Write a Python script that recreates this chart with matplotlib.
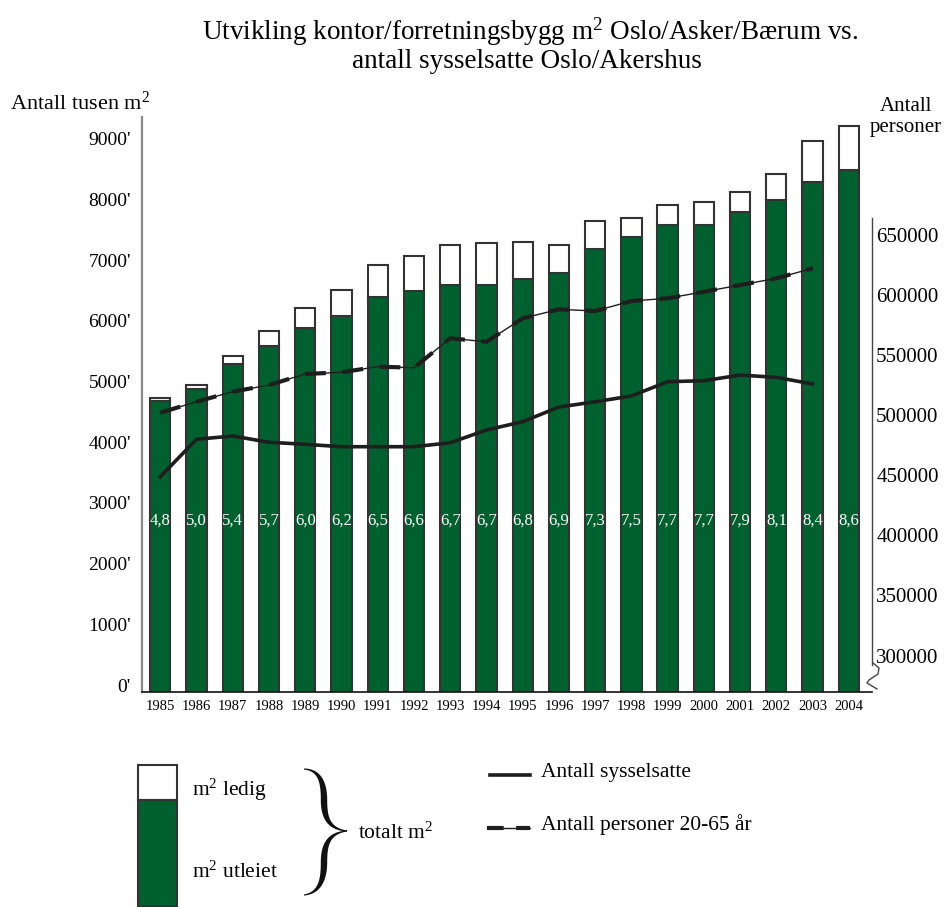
from matplotlib import pyplot as plt
from matplotlib.lines import Line2D
from matplotlib.patches import Rectangle, Polygon
from matplotlib.transforms import ScaledTranslation
import numpy as np

plt.rcParams['font.family'] = ['Liberation Serif', 'DejaVu Serif']
plt.rcParams['mathtext.fontset'] = 'custom'
plt.rcParams['mathtext.rm'] = 'Liberation Serif'
plt.rcParams['mathtext.it'] = 'Liberation Serif'

# Data (tusen m2 and persons)
years = list(range(1985, 2005))
utleiet_mill = [4.8, 5.0, 5.4, 5.7, 6.0, 6.2, 6.5, 6.6, 6.7, 6.7,
                6.8, 6.9, 7.3, 7.5, 7.7, 7.7, 7.9, 8.1, 8.4, 8.6]
ledig = [40, 50, 130, 240, 330, 430, 530, 590, 660, 690,
         610, 470, 460, 310, 330, 370, 330, 430, 680, 720]
sysselsatte = [448700, 479900, 482600, 477400, 475700, 473700, 473700, 473700,
               477000, 487600, 494500, 506700, 511100, 515900, 527800, 528600,
               533300, 531400, 525900]
personer_20_65 = [502000, 511100, 519500, 525000, 534200, 535600, 540300, 539400,
                  563900, 561000, 580500, 588000, 586600, 594900, 597200, 602600,
                  608200, 613800, 622100]
left_ticks = list(range(0, 9001, 1000))
right_ticks = list(range(300000, 650001, 50000))

GREEN = '#00612f'
EDGE = '#333333'
W, H = 945, 907

fig = plt.figure(figsize=(9.45, 9.07), dpi=100)


def fx(px):
    return px / W


def fy(py):
    return 1 - py / H


ax = fig.add_axes([fx(142), fy(692), fx(872) - fx(142), fy(117) - fy(692)])

x = np.arange(len(years))
utleiet = [v * 1000 for v in utleiet_mill]
ax.bar(x, utleiet, width=0.56, color=GREEN, edgecolor=EDGE, linewidth=1.5)
ax.bar(x, ledig, bottom=utleiet, width=0.56, color='white', edgecolor=EDGE, linewidth=1.5)

for i, v in enumerate(utleiet_mill):
    ax.text(i, 2820, f"{v:.1f}".replace('.', ','), color='white',
            ha='center', va='center', fontsize=12)

ax.set_xlim(-0.505, 19.64)
ax.set_ylim(0, 9473)
ax.set_xticks(x)
ax.set_xticklabels([str(y) for y in years], fontsize=10.5)
ax.set_yticks(left_ticks)
ax.set_yticklabels([f"{v}'" for v in left_ticks], fontsize=14)
ax.tick_params(axis='both', length=0)
ax.tick_params(axis='y', pad=8)
ax.tick_params(axis='x', pad=6)
for lab in ax.get_yticklabels():
    lab.set_transform(lab.get_transform() + ScaledTranslation(0, 0.07, fig.dpi_scale_trans))

ax.spines['top'].set_visible(False)
ax.spines['right'].set_visible(False)
ax.spines['left'].set_color('#8a8a8a')
ax.spines['left'].set_linewidth(1.6)
ax.spines['bottom'].set_color('#111111')
ax.spines['bottom'].set_linewidth(1.2)

# persons on the right-hand axis
ax2 = ax.twinx()
ax2.set_ylim(269634, 748003)
xl = np.arange(len(sysselsatte))
ax2.plot(xl, sysselsatte, color='#1e1e1e', linewidth=2.6, solid_joinstyle='round')
ax2.plot(xl, personer_20_65, color='#1e1e1e', linewidth=1.0)
ax2.plot(xl, personer_20_65, color='#1e1e1e', linewidth=3.0, dashes=(5, 4))
ax2.set_yticks(right_ticks)
ax2.set_yticklabels([str(v) for v in right_ticks], fontsize=15)
ax2.tick_params(axis='y', length=0, pad=3)
for s in ['top', 'left', 'bottom']:
    ax2.spines[s].set_visible(False)
ax2.spines['right'].set_bounds(292500, 664000)
ax2.spines['right'].set_color('#444444')
ax2.spines['right'].set_linewidth(1.0)

# axis break squiggle under the right axis
sq = [(873, 663), (879, 668), (878, 674), (869, 680), (867, 683), (872, 686), (877, 689)]
fig.add_artist(Line2D([fx(p[0]) for p in sq], [fy(p[1]) for p in sq],
                      transform=fig.transFigure, color='#444444', linewidth=1.0))

# titles and axis captions
fig.text(fx(530), fy(32), "Utvikling kontor/forretningsbygg m$^2$ Oslo/Asker/Bærum vs.",
         ha='center', va='center', fontsize=19.5)
fig.text(fx(527), fy(62), "antall sysselsatte Oslo/Akershus",
         ha='center', va='center', fontsize=19.5)
fig.text(fx(10), fy(103), "Antall tusen m$^2$", ha='left', va='center', fontsize=16)
fig.text(fx(906), fy(117), "Antall\npersoner", ha='center', va='center',
         fontsize=15, linespacing=1.1)

# legend block
fig.add_artist(Rectangle((fx(138), fy(800)), fx(177) - fx(138), fy(765) - fy(800),
                         transform=fig.transFigure, facecolor='white', edgecolor=EDGE, linewidth=1.5))
fig.add_artist(Rectangle((fx(138), fy(906)), fx(177) - fx(138), fy(800) - fy(906),
                         transform=fig.transFigure, facecolor=GREEN, edgecolor=EDGE, linewidth=1.5))
fig.text(fx(192), fy(790), "m$^2$ ledig", ha='left', va='center', fontsize=15.5)
fig.text(fx(192), fy(872), "m$^2$ utleiet", ha='left', va='center', fontsize=15.5)


# calligraphic curly brace: centre line from cubic curves, width swelling mid-stroke
def bezier(p0, p1, p2, p3, n=40):
    t = np.linspace(0, 1, n)[:, None]
    return ((1 - t) ** 3 * np.array(p0) + 3 * (1 - t) ** 2 * t * np.array(p1)
            + 3 * (1 - t) * t ** 2 * np.array(p2) + t ** 3 * np.array(p3))


def brace_half(segs):
    pts = np.vstack([bezier(*s) for s in segs])
    d = np.gradient(pts, axis=0)
    nrm = np.column_stack([-d[:, 1], d[:, 0]])
    nrm /= np.linalg.norm(nrm, axis=1)[:, None]
    u = np.linspace(0, 1, len(pts))
    w = 0.6 + 2.6 * np.sin(np.pi * u) ** 1.5
    return np.vstack([pts + nrm * w[:, None], (pts - nrm * w[:, None])[::-1]])


upper = brace_half([((304, 769), (320, 770), (324, 783), (324, 800)),
                    ((324, 800), (324, 818), (329, 829), (347, 831))])
lower = brace_half([((347, 831), (329, 833), (324, 844), (324, 862)),
                    ((324, 862), (324, 879), (320, 893), (304, 895))])
for half in (upper, lower):
    fig.add_artist(Polygon(np.column_stack([fx(half[:, 0]), fy(half[:, 1])]),
                           closed=True, transform=fig.transFigure,
                           facecolor='#111111', edgecolor='none'))
fig.text(fx(358), fy(833), "totalt m$^2$", ha='left', va='center', fontsize=15.5)

fig.add_artist(Line2D([fx(490), fx(530)], [fy(775), fy(775)], transform=fig.transFigure,
                      color='#1e1e1e', linewidth=2.6))
fig.add_artist(Line2D([fx(487), fx(530)], [fy(828), fy(828)], transform=fig.transFigure,
                      color='#1e1e1e', linewidth=1.0))
fig.add_artist(Line2D([fx(487), fx(530)], [fy(828), fy(828)], transform=fig.transFigure,
                      color='#1e1e1e', linewidth=3.0, dashes=(4, 3)))
fig.text(fx(541), fy(772), "Antall sysselsatte", ha='left', va='center', fontsize=15.5)
fig.text(fx(541), fy(825), "Antall personer 20-65 år", ha='left', va='center', fontsize=15.5)

fig.savefig('out.png', dpi=100)
